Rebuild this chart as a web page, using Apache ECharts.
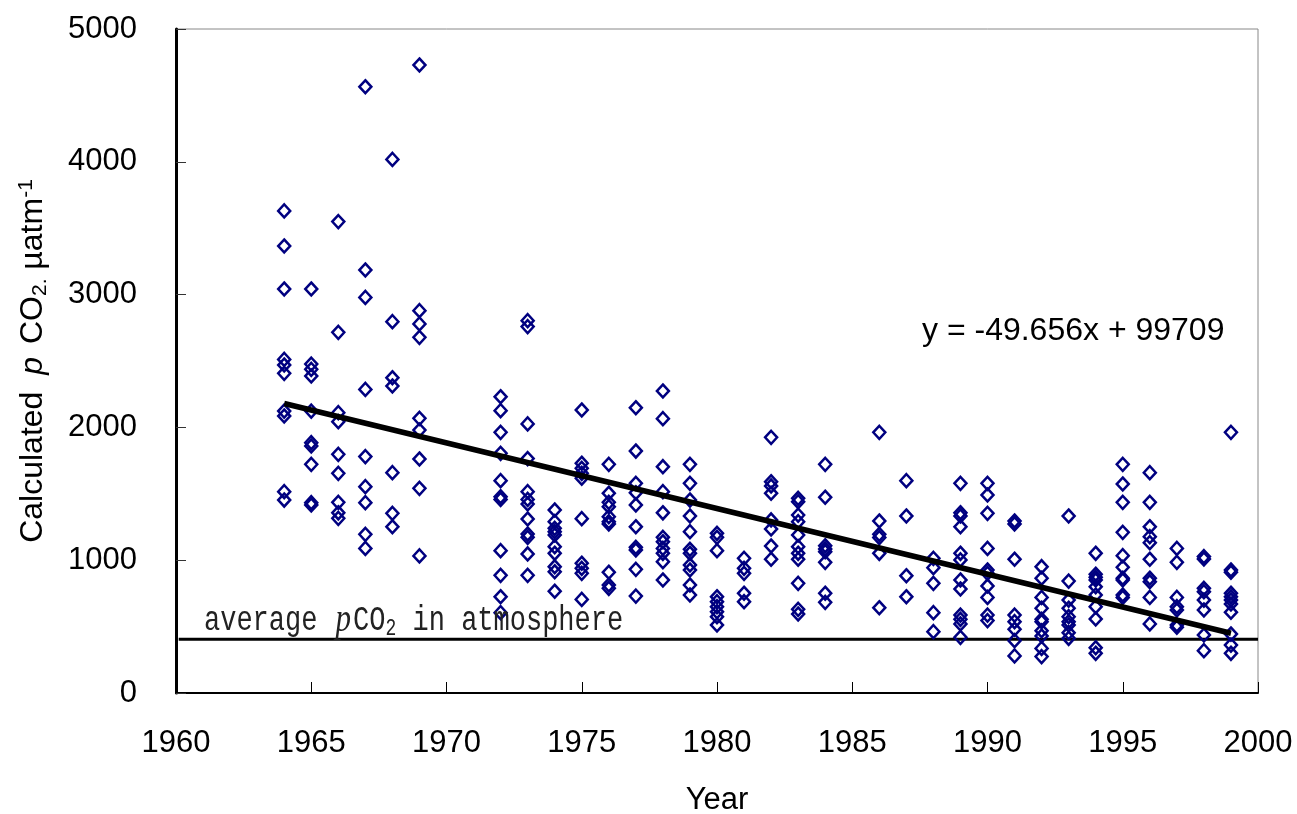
<!DOCTYPE html>
<html>
<head>
<meta charset="utf-8">
<script src="https://cdn.jsdelivr.net/npm/echarts@6/dist/echarts.min.js"></script>
<style>html,body{margin:0;padding:0;background:#fff}#c{width:1297px;height:814px}</style>
</head>
<body>
<div id="c"></div>
<script>
const years = [1964,1965,1966,1967,1968,1969,1972,1973,1974,1975,1976,1977,1978,1979,1980,1981,1982,1983,1984,1986,1987,1988,1989,1990,1991,1992,1993,1994,1995,1996,1997,1998,1999];
const pco2ByYear = [
  [3630,3366,3042,2512,2470,2407,2123,2086,1516,1453],
  [3042,2477,2437,2387,2123,1885,1860,1722,1433,1416],
  [3550,2716,2111,2043,1797,1654,1436,1357,1315],
  [4565,3185,2979,2286,1780,1554,1433,1195,1089],
  [4018,2796,2374,2312,1659,1353,1252],
  [4729,2879,2779,2678,2068,1980,1762,1541,1032],
  [2231,2126,1963,1805,1599,1478,1458,1072,886,725,605],
  [2804,2759,2026,1765,1516,1458,1423,1310,1197,1172,1047,886],
  [1378,1290,1240,1215,1190,1102,1052,951,913,766],
  [2131,1730,1692,1654,1617,1313,977,939,901,705],
  [1722,1504,1436,1403,1328,1290,1273,909,813,788],
  [2148,1822,1579,1508,1416,1252,1097,1077,931,730],
  [2274,2066,1704,1516,1357,1172,1139,1089,1052,989,851],
  [1722,1579,1453,1333,1215,1082,1052,964,926,813,738],
  [1202,1172,1072,725,688,650,612,575,512],
  [1014,939,901,751,688],
  [1925,1591,1559,1504,1303,1235,1107,1007],
  [1466,1441,1340,1290,1190,1102,1052,1007,826,630,595],
  [1722,1474,1109,1084,1064,984,751,683],
  [1963,1295,1195,1170,1052,642],
  [1599,1333,883,725],
  [1014,944,826,605,462],
  [1579,1357,1333,1252,1052,1002,851,783,587,555,520,419],
  [1579,1491,1353,1089,926,901,806,720,587,545],
  [1295,1273,1007,587,537,480,394,279],
  [951,864,720,638,555,537,469,429,336,274],
  [1333,843,700,638,575,537,512,454,412],
  [1052,894,871,851,800,738,650,557,341,299],
  [1722,1574,1436,1210,1034,947,864,851,738,720],
  [1659,1436,1252,1177,1132,1007,864,838,720,520],
  [1089,984,720,650,625,512,495],
  [1027,1009,788,763,700,625,437,319],
  [1963,926,909,751,725,700,670,608,444,361,299]
];
const trendYears = [1964, 1999];
const trendValues = [2180, 450];
const atmosphereYears = [1960.1, 2000];
const atmosphereValue = 405;
const xTicks = [1960, 2000, 5];
const yTicks = [0, 5000, 1000];
const equationText = 'y = -49.656x + 99709';

const scatterData = [];
years.forEach((yr, i) => pco2ByYear[i].forEach(v => scatterData.push([yr, v])));
const trendData = trendYears.map((x, i) => [x, trendValues[i]]);
const atmData = atmosphereYears.map(x => [x, atmosphereValue]);

const FONT = "'Liberation Sans', Arial, sans-serif";
const chart = echarts.init(document.getElementById('c'));
chart.setOption({
  backgroundColor: '#fff',
  animation: false,
  grid: { left: 176, right: 39, top: 29, bottom: 121, show: true, borderColor: '#888', borderWidth: 1,
          containLabel: false, outerBoundsMode: 'none' },
  xAxis: {
    type: 'value', min: xTicks[0], max: xTicks[1], interval: xTicks[2],
    name: 'Year', nameLocation: 'middle', nameGap: 92,
    nameTextStyle: { fontFamily: FONT, fontSize: 31, color: '#000' },
    axisLine: { onZero: false, lineStyle: { color: '#000', width: 2 } },
    axisTick: { inside: true, length: 11, lineStyle: { color: '#000', width: 1 } },
    axisLabel: { fontFamily: FONT, fontSize: 31, color: '#000', margin: 35, formatter: v => String(v) },
    splitLine: { show: false }
  },
  yAxis: {
    type: 'value', min: yTicks[0], max: yTicks[1], interval: yTicks[2],
    name: '{t|Calculated }{i|p}{t| CO}{sub|2.}{t| µatm}{sup|-1}',
    nameLocation: 'middle', nameGap: 125, nameRotate: 90,
    nameTextStyle: {
      fontFamily: FONT, fontSize: 32, color: '#000',
      rich: {
        t: { fontFamily: FONT, fontSize: 32, color: '#000' },
        i: { fontFamily: FONT, fontSize: 32, fontStyle: 'italic', color: '#000', padding: [0, 4, 0, 8] },
        sub: { fontFamily: FONT, fontSize: 21, color: '#000', verticalAlign: 'bottom', padding: [12, 0, 0, 0] },
        sup: { fontFamily: FONT, fontSize: 21, color: '#000', verticalAlign: 'top', padding: [0, 0, 14, 0] }
      }
    },
    axisLine: { show: true, lineStyle: { color: '#000', width: 3 } },
    axisTick: { inside: true, length: 10, lineStyle: { color: '#333', width: 1 } },
    axisLabel: { fontFamily: FONT, fontSize: 31, color: '#000', margin: 39, formatter: v => String(v) },
    splitLine: { show: false }
  },
  series: [
    {
      type: 'line', data: atmData, symbol: 'none', silent: true, z: 2,
      lineStyle: { color: '#000', width: 3 }
    },
    {
      type: 'scatter', data: scatterData, symbol: 'diamond', symbolSize: [12, 13], z: 3,
      itemStyle: { color: 'rgba(0,0,0,0)', borderColor: '#000080', borderWidth: 2.5, opacity: 1 }
    },
    {
      type: 'line', data: trendData, symbol: 'none', silent: true, z: 4,
      lineStyle: { color: '#000', width: 5.5 }
    }
  ],
  graphic: [
    {
      type: 'text', left: 922, top: 315, z: 10,
      style: { text: equationText, font: "32px 'Liberation Sans', Arial, sans-serif", fill: '#000' }
    },
    {
      type: 'text', x: 204, y: 641, scaleY: 1.3, z: 10,
      style: {
        text: '{a|average }{i|p}{a|CO}{s|2}{a| in atmosphere}',
        fill: '#222',
        verticalAlign: 'bottom',
        rich: {
          a: { fontFamily: "'Liberation Mono', monospace", fontSize: 27, fill: '#222' },
          i: { fontFamily: "'Liberation Serif', serif", fontSize: 31, fontStyle: 'italic', fill: '#222', padding: [0, 2, 0, 2] },
          s: { fontFamily: "'Liberation Mono', monospace", fontSize: 18, fill: '#222', verticalAlign: 'bottom', padding: [10, 0, 0, 0] }
        }
      }
    }
  ]
});
</script>
</body>
</html>
